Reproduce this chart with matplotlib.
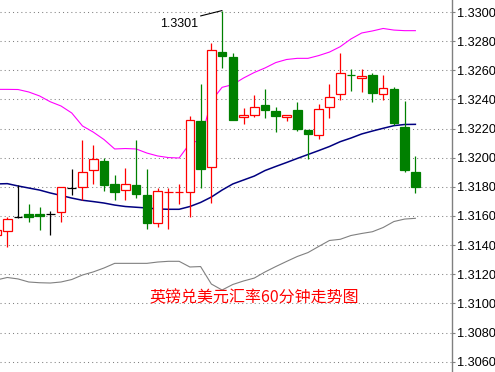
"""
GBP/USD 60-minute candlestick chart with Bollinger bands.
"""

import matplotlib
matplotlib.use("Agg")
import matplotlib.pyplot as plt
import numpy as np

# OHLC values, one entry per hourly candle
opens = [1.31470, 1.31495, 1.31591, 1.31612, 1.31612, 1.31612, 1.31625, 1.31790, 1.31801, 1.31914,
         1.31975, 1.31820, 1.31776, 1.31811, 1.31742, 1.31550, 1.31766, 1.31766, 1.31763, 1.32252,
         1.31934, 1.32723, 1.32689, 1.32277, 1.32291, 1.32360, 1.32321, 1.32281, 1.32327, 1.32190,
         1.32154, 1.32350, 1.32435, 1.32569, 1.32545, 1.32568, 1.32435, 1.32469, 1.32209, 1.31902]
highs = [1.31510, 1.31593, 1.31811, 1.31682, 1.31660, 1.31636, 1.31800, 1.31922, 1.32122, 1.32087,
         1.32000, 1.31881, 1.31927, 1.32122, 1.31920, 1.31790, 1.31790, 1.31820, 1.32286, 1.32506,
         1.32785, 1.33010, 1.32719, 1.32341, 1.32430, 1.32472, 1.32350, 1.32295, 1.32382, 1.32190,
         1.32367, 1.32506, 1.32721, 1.32609, 1.32609, 1.32581, 1.32568, 1.32483, 1.32389, 1.32012]
lows = [1.31460, 1.31387, 1.31589, 1.31561, 1.31504, 1.31470, 1.31561, 1.31746, 1.31710, 1.31818,
        1.31774, 1.31710, 1.31708, 1.31726, 1.31513, 1.31527, 1.31513, 1.31684, 1.31595, 1.31794,
        1.31691, 1.32618, 1.32261, 1.32233, 1.32281, 1.32275, 1.32179, 1.32252, 1.32181, 1.31991,
        1.32128, 1.32275, 1.32396, 1.32460, 1.32453, 1.32380, 1.32396, 1.32222, 1.31902, 1.31760]
closes = [1.31504, 1.31577, 1.31591, 1.31595, 1.31600, 1.31612, 1.31797, 1.31790, 1.31900, 1.31989,
          1.31815, 1.31763, 1.31818, 1.31753, 1.31554, 1.31769, 1.31767, 1.31767, 1.32257, 1.31925,
          1.32736, 1.32700, 1.32261, 1.32295, 1.32346, 1.32330, 1.32288, 1.32295, 1.32199, 1.32165,
          1.32336, 1.32415, 1.32579, 1.32568, 1.32559, 1.32442, 1.32476, 1.32236, 1.31914, 1.31797]

# Bollinger bands
upper_band = [1.32469, 1.32469, 1.32468, 1.32451, 1.32424, 1.32384, 1.32355, 1.32307, 1.32218, 1.32176,
              1.32125, 1.32060, 1.32063, 1.32060, 1.32032, 1.32012, 1.32001, 1.31998, 1.32098, 1.32122,
              1.32389, 1.32483, 1.32502, 1.32547, 1.32585, 1.32616, 1.32653, 1.32674, 1.32682, 1.32682,
              1.32701, 1.32725, 1.32762, 1.32815, 1.32856, 1.32870, 1.32887, 1.32876, 1.32872, 1.32872]
middle_band = [1.31820, 1.31822, 1.31806, 1.31792, 1.31778, 1.31758, 1.31741, 1.31723, 1.31708, 1.31699,
               1.31689, 1.31675, 1.31665, 1.31660, 1.31655, 1.31648, 1.31646, 1.31646, 1.31665, 1.31693,
               1.31730, 1.31778, 1.31820, 1.31847, 1.31874, 1.31912, 1.31940, 1.31967, 1.31995, 1.32022,
               1.32049, 1.32077, 1.32110, 1.32135, 1.32163, 1.32183, 1.32202, 1.32220, 1.32228, 1.32229]
lower_band = [1.31161, 1.31178, 1.31168, 1.31147, 1.31142, 1.31140, 1.31147, 1.31164, 1.31195, 1.31216,
              1.31243, 1.31275, 1.31275, 1.31275, 1.31275, 1.31284, 1.31289, 1.31289, 1.31250, 1.31253,
              1.31133, 1.31092, 1.31130, 1.31154, 1.31174, 1.31216, 1.31253, 1.31288, 1.31322, 1.31349,
              1.31391, 1.31432, 1.31440, 1.31466, 1.31480, 1.31492, 1.31521, 1.31562, 1.31579, 1.31584]

y_ticks = [1.3060, 1.3080, 1.3100, 1.3120, 1.3140, 1.3160, 1.3180,
           1.3200, 1.3220, 1.3240, 1.3260, 1.3280, 1.3300]
title = "英镑兑美元汇率60分钟走势图"

UP = "#ff0000"
DOWN = "#008000"
FLAT = "#000000"


def main():
    fig = plt.figure(figsize=(4.95, 3.72), dpi=100)
    ax = fig.add_axes([0, 0, 452 / 495, 1])

    x = np.arange(len(opens))
    o = np.array(opens)
    c = np.array(closes)
    colors = [UP if cc > oo else DOWN if cc < oo else FLAT for oo, cc in zip(o, c)]

    # dotted grid
    for t in y_ticks:
        ax.axhline(t, color="#808080", lw=0.75, ls=(0, (1, 3)), zorder=0)

    ax.plot(x, upper_band, color="#ff00ff", lw=0.8, zorder=1)
    ax.plot(x, middle_band, color="#000080", lw=1.1, zorder=1)
    ax.plot(x, lower_band, color="#808080", lw=0.8, zorder=1)

    ax.vlines(x, lows, highs, colors=colors, lw=0.9, zorder=2)
    faces = ["white" if col != DOWN else DOWN for col in colors]
    ax.bar(x, np.abs(c - o), bottom=np.minimum(o, c), width=0.8,
           color=faces, edgecolor=colors, linewidth=0.9, zorder=3)

    # label on the highest high
    i_max = int(np.argmax(highs))
    ax.annotate(f"{highs[i_max]:.4f}", xy=(x[i_max], highs[i_max]),
                xytext=(-17.5, -10), textcoords="offset points",
                ha="right", va="center", fontsize=9, family="Liberation Sans",
                arrowprops=dict(arrowstyle="-", color="black", lw=0.8,
                                shrinkA=0, shrinkB=0, relpos=(1.0, 1.15)))

    ax.text(0.562, 0.20, title, transform=ax.transAxes, color="red",
            fontsize=11.5, ha="center", va="center",
            family=["Noto Sans CJK SC", "DejaVu Sans"])

    ax.set_xlim(0.32, 42.41)
    ax.set_ylim(1.305293, 1.330824)
    ax.set_xticks([])
    ax.set_yticks(y_ticks)
    ax.set_yticklabels([f"{t:.4f}" for t in y_ticks], family="Liberation Sans", fontsize=9.2)
    ax.yaxis.tick_right()
    ax.tick_params(axis="y", length=2.5, width=0.8, color="#808080", pad=1)

    for side in ["top", "bottom", "left"]:
        ax.spines[side].set_visible(False)
    ax.spines["right"].set_color("#808080")
    ax.spines["right"].set_linewidth(1.0)

    fig.savefig("out.png", dpi=100)


if __name__ == "__main__":
    main()
